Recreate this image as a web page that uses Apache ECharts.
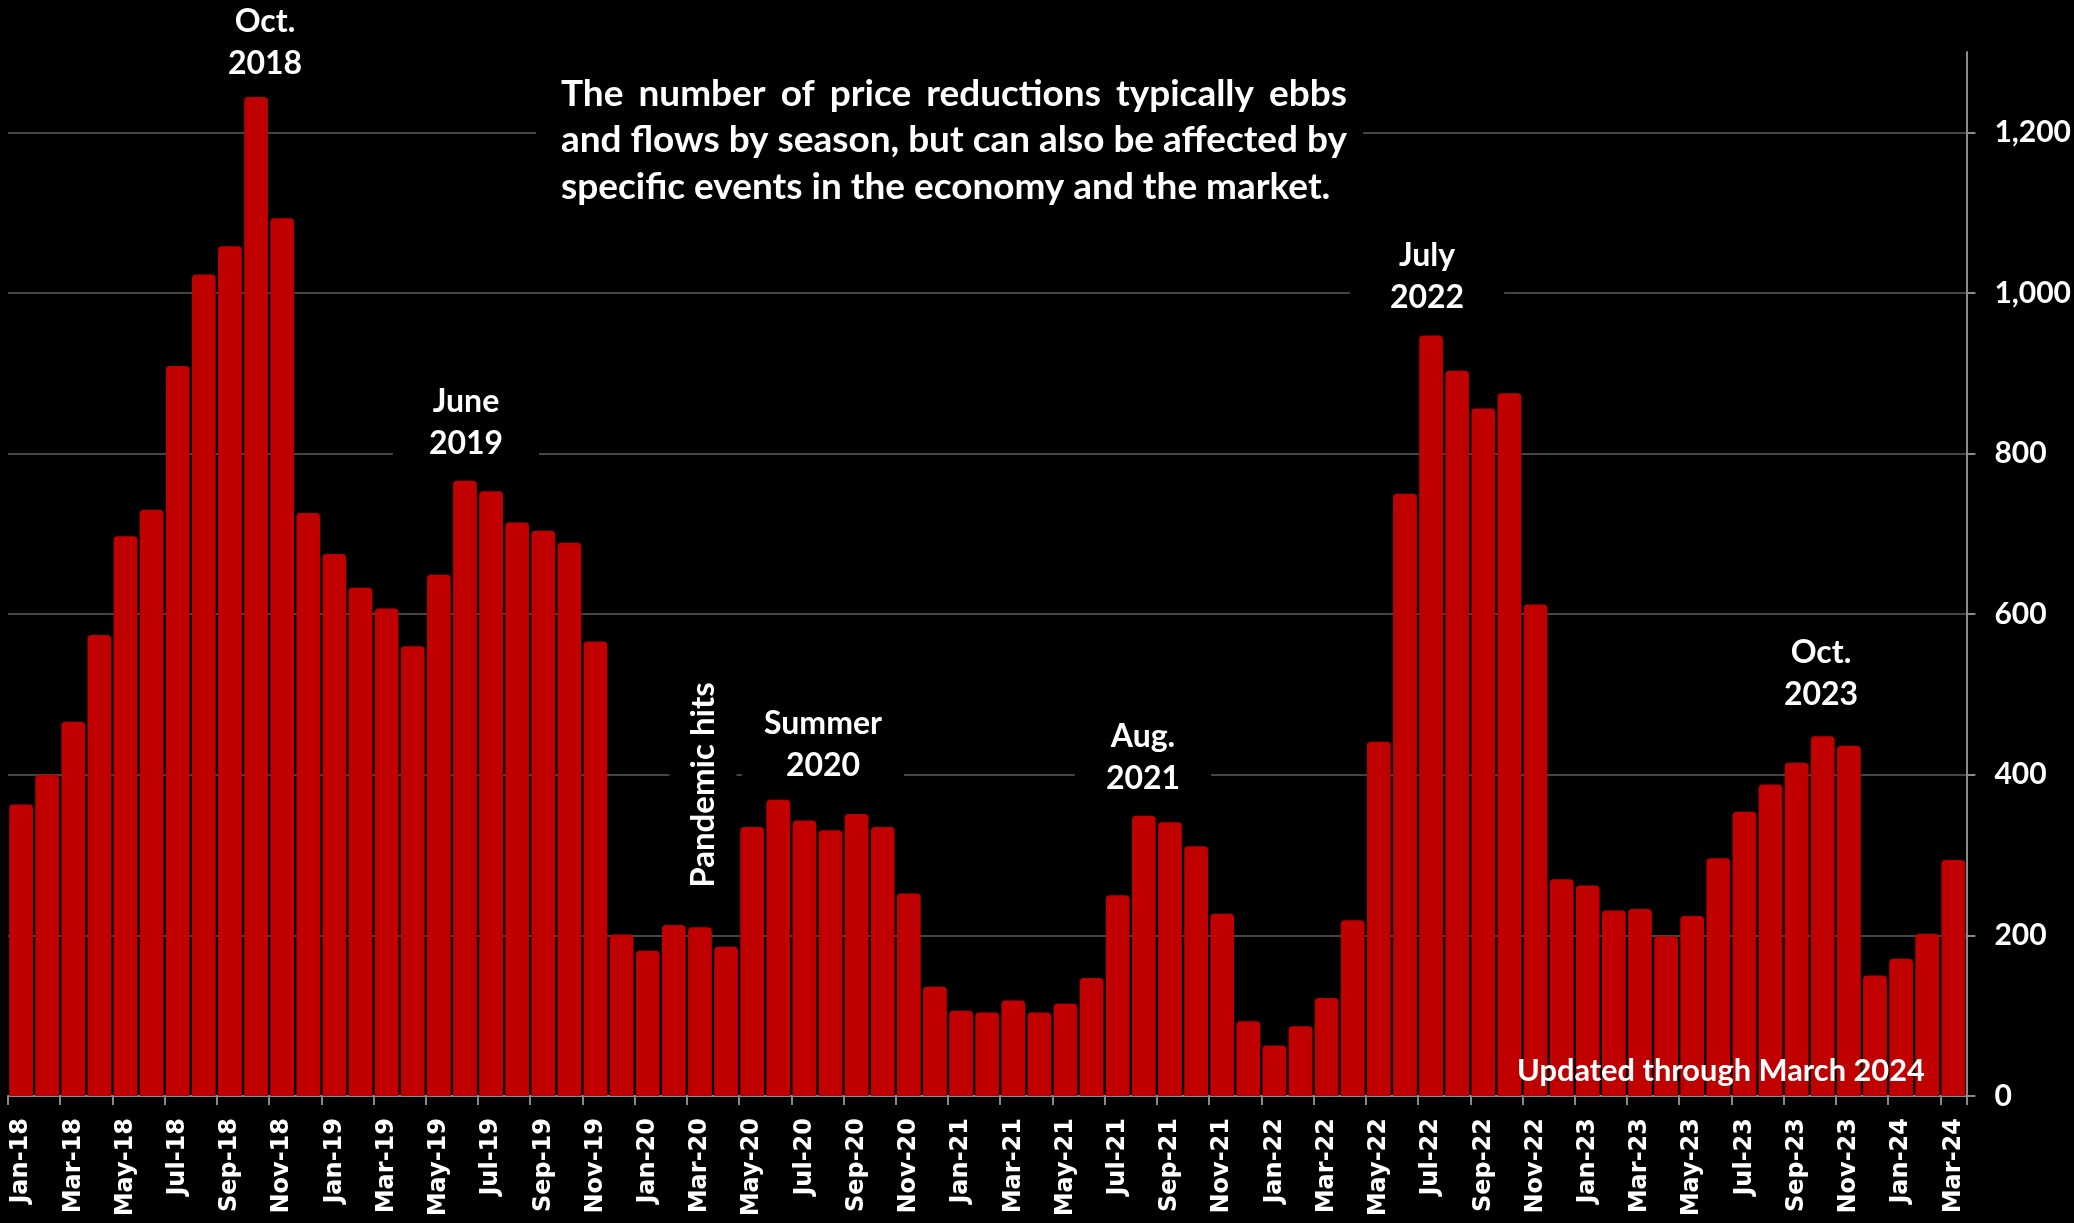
<!DOCTYPE html>
<html>
<head>
<meta charset="utf-8">
<style>
html,body{margin:0;padding:0;background:#000;}
#c{width:2074px;height:1223px;}
</style>
<script src="https://cdn.jsdelivr.net/npm/echarts@6/dist/echarts.min.js"></script>
</head>
<body>
<div id="c"></div>
<script>
const categories = [
 'Jan-18','Feb-18','Mar-18','Apr-18','May-18','Jun-18','Jul-18','Aug-18','Sep-18','Oct-18','Nov-18','Dec-18',
 'Jan-19','Feb-19','Mar-19','Apr-19','May-19','Jun-19','Jul-19','Aug-19','Sep-19','Oct-19','Nov-19','Dec-19',
 'Jan-20','Feb-20','Mar-20','Apr-20','May-20','Jun-20','Jul-20','Aug-20','Sep-20','Oct-20','Nov-20','Dec-20',
 'Jan-21','Feb-21','Mar-21','Apr-21','May-21','Jun-21','Jul-21','Aug-21','Sep-21','Oct-21','Nov-21','Dec-21',
 'Jan-22','Feb-22','Mar-22','Apr-22','May-22','Jun-22','Jul-22','Aug-22','Sep-22','Oct-22','Nov-22','Dec-22',
 'Jan-23','Feb-23','Mar-23','Apr-23','May-23','Jun-23','Jul-23','Aug-23','Sep-23','Oct-23','Nov-23','Dec-23',
 'Jan-24','Feb-24','Mar-24'
];
const priceReductions = [
 363, 400, 466, 574, 697, 730, 909, 1023, 1058, 1244, 1093, 726,
 675, 633, 607, 560, 649, 766, 753, 714, 704, 689, 566, 201,
 181, 213, 210, 186, 335, 369, 343, 331, 351, 335, 252, 136,
 106, 104, 119, 104, 115, 147, 250, 349, 341, 311, 227, 93,
 63, 87, 122, 219, 441, 750, 947, 903, 856, 875, 612, 270,
 262, 231, 233, 199, 224, 296, 354, 388, 415, 448, 436, 150,
 171, 202, 294
];
const yTickValues = [0, 200, 400, 600, 800, 1000, 1200];

const paragraphLines = [
 'The number of price reductions typically ebbs',
 'and flows by season, but can also be affected by',
 'specific events in the economy and the market.'
];
const notes = [
 {text: 'Oct.\n2018', x: 265, y: 43, pad: [4, 20, 4, 20]},
 {text: 'June\n2019', x: 466, y: 423, pad: [4, 36, 4, 36]},
 {text: 'Summer\n2020', x: 823, y: 745, pad: [4, 22, 4, 22]},
 {text: 'Aug.\n2021', x: 1143, y: 758, pad: [4, 31, 4, 31]},
 {text: 'July\n2022', x: 1427, y: 277, pad: [4, 40, 4, 40]},
 {text: 'Oct.\n2023', x: 1821, y: 674, pad: [4, 10, 4, 10]}
];
const pandemicText = 'Pandemic hits';
const updatedText = 'Updated through March 2024';

const FONT = 'Lato';
const cv = document.createElement('canvas').getContext('2d');
function measure(t, size) { cv.font = 'bold ' + size + 'px ' + FONT; return cv.measureText(t).width; }

const chart = echarts.init(document.getElementById('c'), null, {renderer: 'canvas'});

const graphics = [];
graphics.push({type: 'rect', z: 100, shape: {x: 536, y: 66, width: 827, height: 146}, style: {fill: '#000'}});
const paraWidth = 786, paraLeft = 561;
const paraSize = 31 * paraWidth / measure(paragraphLines[1], 31);
const paraY = [94, 140, 187];
(function () {
  const words = paragraphLines[0].split(' ');
  const ws = words.map(w => measure(w, paraSize));
  const total = ws.reduce((a, b) => a + b, 0);
  const gap = (paraWidth - total) / (words.length - 1);
  let x = paraLeft;
  words.forEach((w, i) => {
    graphics.push({type: 'text', z: 101, x: x, y: paraY[0],
      style: {text: w, fill: '#fff', fontFamily: FONT, fontWeight: 'bold', fontSize: paraSize, textAlign: 'left', textVerticalAlign: 'middle'}});
    x += ws[i] + gap;
  });
})();
for (let i = 1; i < 3; i++) {
  graphics.push({type: 'text', z: 101, x: paraLeft, y: paraY[i],
    style: {text: paragraphLines[i], fill: '#fff', fontFamily: FONT, fontWeight: 'bold', fontSize: paraSize, textAlign: 'left', textVerticalAlign: 'middle'}});
}
notes.forEach(n => {
  graphics.push({type: 'text', z: 101, x: n.x, y: n.y,
    style: {text: n.text, fill: '#fff', fontFamily: FONT, fontWeight: 'bold', fontSize: 32, lineHeight: 42,
      textAlign: 'center', textVerticalAlign: 'middle', backgroundColor: '#000', padding: n.pad}});
});
graphics.push({type: 'text', z: 101, x: 703, y: 785, rotation: Math.PI / 2,
  style: {text: pandemicText, fill: '#fff', fontFamily: FONT, fontWeight: 'bold', fontSize: 33,
    textAlign: 'center', textVerticalAlign: 'middle', backgroundColor: '#000', padding: [17, 6, 17, 6]}});
const updSize = 30 * 408 / measure(updatedText, 30);
graphics.push({type: 'text', z: 101, x: 1721, y: 1071,
  style: {text: updatedText, fill: '#fff', fontFamily: FONT, fontWeight: 'bold', fontSize: updSize,
    textAlign: 'center', textVerticalAlign: 'middle'}});

const option = {
  backgroundColor: '#000',
  animation: false,
  grid: {left: 8, right: 106, top: 52, bottom: 127, containLabel: false},
  xAxis: {
    type: 'category',
    data: categories,
    boundaryGap: true,
    axisLine: {show: true, lineStyle: {color: '#8a8a8a', width: 2}},
    axisTick: {show: true, interval: 1, length: 9, alignWithLabel: false, lineStyle: {color: '#8a8a8a', width: 2}},
    axisLabel: {interval: 1, rotate: 90, margin: 22, color: '#fff', fontFamily: 'DejaVu Sans', fontWeight: 'bold', fontSize: 24},
    splitLine: {show: false}
  },
  yAxis: {
    type: 'value',
    position: 'right',
    min: 0, max: 1300, interval: 200,
    axisLine: {show: true, lineStyle: {color: '#8a8a8a', width: 2}},
    axisTick: {show: true, inside: false, length: 9, customValues: yTickValues, lineStyle: {color: '#8a8a8a', width: 2}},
    axisLabel: {show: true, margin: 28, color: '#fff', fontFamily: FONT, fontWeight: 'bold', fontSize: 30,
      customValues: yTickValues,
      formatter: v => (v > 1200 ? '' : v.toLocaleString('en-US'))},
    splitLine: {show: true, lineStyle: {color: '#444', width: 2}}
  },
  series: [{
    type: 'bar',
    data: priceReductions,
    barCategoryGap: '9%',
    itemStyle: {color: '#C00000', borderRadius: [4, 4, 0, 0]}
  }],
  graphic: graphics
};
chart.setOption(option);
</script>
</body>
</html>
